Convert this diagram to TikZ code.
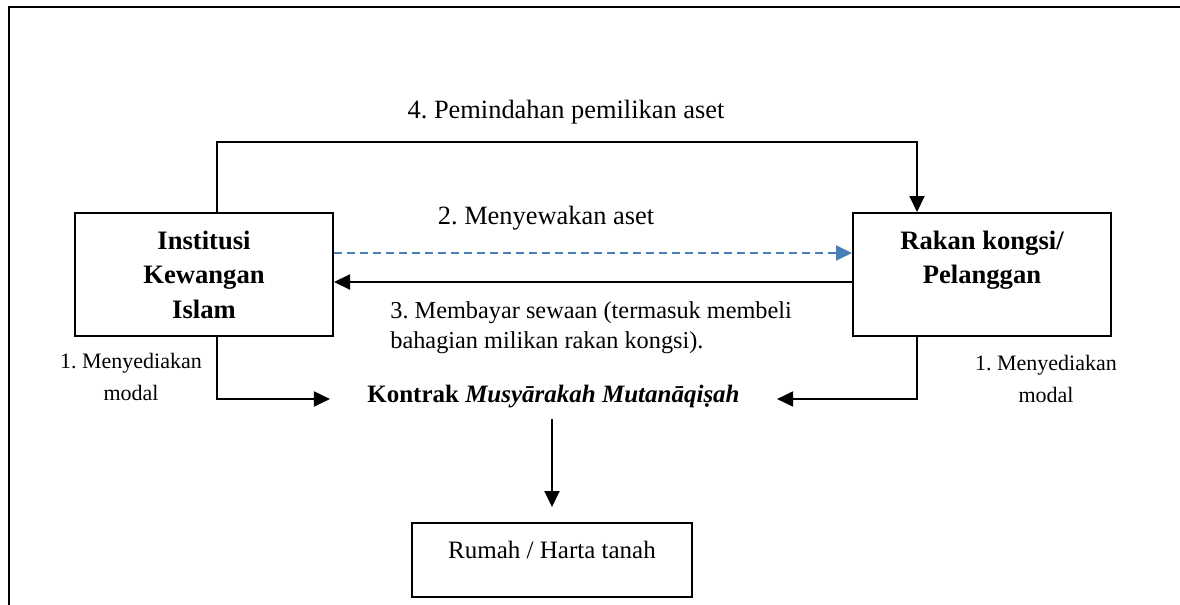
\documentclass[tikz,border=0pt]{standalone}
\usepackage{fontspec}
\setmainfont{Liberation Serif}
\usetikzlibrary{arrows.meta}
\definecolor{dblue}{RGB}{74,126,187}
\frenchspacing
\begin{document}
\begin{tikzpicture}[x=0.5pt,y=-0.5pt,
  box/.style={draw, line width=1pt, minimum width=129pt, minimum height=61.5pt, inner sep=0pt, align=center, font=\fontsize{13.3}{17.25}\selectfont\bfseries},
  conn/.style={line width=1pt, -{Triangle[length=8pt,width=7.5pt]}},
  dconn/.style={line width=1pt, dblue, dash pattern=on 4pt off 2.5pt, -{Triangle[length=8pt,width=7.5pt]}},
  lbl/.style={inner sep=0pt, anchor=base, font=\fontsize{13.2}{16}\selectfont},
  small/.style={inner sep=0pt, anchor=base, align=center, font=\fontsize{11}{16}\selectfont}]
\useasboundingbox (0,0) rectangle (1180,605);
% frame
\draw[line width=1.25pt] (1180,7) -- (9,7) -- (9,605);
% named positions
\coordinate (xl) at (217,0);
\coordinate (xr) at (917,0);
\coordinate (ytop) at (0,142);
\coordinate (ym) at (0,399);
% boxes
\node[box] (iki) at (204,274.5) {Institusi\\Kewangan\\Islam};
\node[box] (rk) at (982,274.5) {Rakan kongsi/\\Pelanggan\\\mbox{}};
\node[draw, line width=1pt, minimum width=140pt, inner xsep=0pt, inner ysep=0pt, text height=17.5pt, text depth=19.5pt, font=\fontsize{12.5}{15}\selectfont] (rumah) at (552,560) {Rumah / Harta tanah};
\node[anchor=base, inner xsep=18.5pt, inner ysep=5.8pt, font=\fontsize{12.5}{15}\selectfont\bfseries] (kontrak) at (553.5,402) {Kontrak \textit{Musyārakah Mutanāqiṣah}};
% labels
\node[lbl] (l4) at (566,119) {4. Pemindahan pemilikan aset};
\node[lbl] (l2) at (546,224) {2. Menyewakan aset};
\node[lbl, anchor=base west, align=left, font=\fontsize{12.15}{15}\selectfont] (l3) at (390,348) {3. Membayar sewaan (termasuk membeli\\bahagian milikan rakan kongsi).};
\node[small] (l1a) at (131,400) {1. Menyediakan\\modal};
\node[small] (l1b) at (1046,402) {1. Menyediakan\\modal};
% connectors
\draw[conn] (iki.north -| xl) -- (xl |- ytop) -- (xr |- ytop) -- (rk.north -| xr);
\draw[dconn] (iki.east |- 0,253) -- (rk.west |- 0,253);
\draw[conn] (rk.west |- 0,282) -- (iki.east |- 0,282);
\draw[conn] (iki.south -| xl) -- (xl |- ym) -- (kontrak.west |- ym);
\draw[conn] (rk.south -| xr) -- (xr |- ym) -- (kontrak.east |- ym);
\draw[conn, shorten >=7.5pt] (kontrak.south -| rumah.north) -- (rumah.north);
\end{tikzpicture}
\end{document}
